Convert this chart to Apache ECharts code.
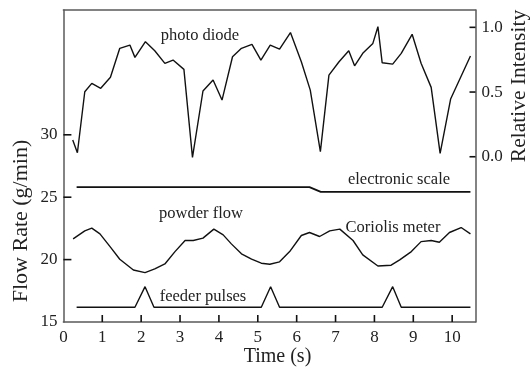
<!DOCTYPE html>
<html>
<head>
<meta charset="utf-8">
<script src="https://cdn.jsdelivr.net/npm/echarts@6/dist/echarts.min.js"></script>
<style>html,body{margin:0;padding:0;background:#fff;}#c{width:531px;height:370px;}</style>
</head>
<body>
<div id="c"></div>
<script>
// ---- data ----
var xTicks = [0,1,2,3,4,5,6,7,8,9,10];
var leftTicks = [15,20,25,30];
var rightTicks = [0,0.5,1.0];

var photoTime = [0.24,0.36,0.55,0.73,0.96,1.21,1.45,1.71,1.84,2.11,2.35,2.61,2.82,3.10,3.32,3.59,3.85,4.08,4.35,4.58,4.85,5.08,5.32,5.56,5.84,6.12,6.35,6.61,6.83,7.09,7.34,7.49,7.70,7.96,8.09,8.20,8.47,8.69,8.97,9.20,9.46,9.69,9.96,10.47];
var photoVal  = [0.129,0.031,0.502,0.567,0.529,0.614,0.838,0.863,0.768,0.889,0.819,0.722,0.747,0.675,-0.005,0.508,0.593,0.438,0.773,0.838,0.869,0.747,0.863,0.832,0.960,0.734,0.515,0.039,0.631,0.734,0.819,0.703,0.799,0.876,1.005,0.726,0.716,0.799,0.946,0.722,0.536,0.026,0.446,0.778];

var scaleTime = [0.34,6.33,6.62,10.47];
var scaleVal  = [25.81,25.81,25.43,25.43];

var flowTime = [0.25,0.55,0.73,0.94,1.20,1.45,1.80,2.10,2.35,2.61,2.87,3.13,3.34,3.59,3.87,4.11,4.32,4.58,4.84,5.09,5.31,5.56,5.82,6.12,6.33,6.59,6.85,7.11,7.45,7.70,8.09,8.43,8.65,8.95,9.20,9.46,9.67,9.93,10.23,10.47];
var flowVal  = [21.66,22.30,22.52,22.06,21.04,20.03,19.17,18.96,19.25,19.65,20.64,21.53,21.53,21.72,22.44,21.98,21.26,20.46,20.03,19.71,19.63,19.82,20.64,21.93,22.17,21.85,22.30,22.44,21.53,20.38,19.49,19.55,19.98,20.64,21.44,21.53,21.39,22.17,22.57,22.06];

var pulseTime = [0.34,1.84,2.10,2.33,5.09,5.33,5.56,8.20,8.47,8.69,10.47];
var pulseVal  = [16.18,16.18,17.83,16.18,16.18,17.83,16.18,16.18,17.83,16.18,16.18];

var X_MIN = 0, X_MAX = 10.6, L_MIN = 15, L_MAX = 40, R_MIN = -1.277, R_MAX = 1.134;

function pairs(t, v){ return t.map(function(x,i){ return [x, v[i]]; }); }

var FONT = 'Liberation Serif';
var AX = '#5a5a5a';
var TICK = '#111';
var chart = echarts.init(document.getElementById('c'));
var lineCommon = {type:'line', symbol:'none', animation:false,
  lineStyle:{color:'#111', width:1.4}};

// tick marks drawn through the axes' scales (api.coord)
function tickSeries(data, yIdx, dx, dy){
  return {type:'custom', xAxisIndex:0, yAxisIndex:yIdx, clip:false, silent:true, z:10, animation:false,
    data:data,
    renderItem:function(params, api){
      var p = api.coord([api.value(0), api.value(1)]);
      return {type:'line', z2:100, shape:{x1:p[0], y1:p[1], x2:p[0]+dx, y2:p[1]+dy},
        style:{stroke:TICK, lineWidth:1.6, fill:null}};
    }};
}

chart.setOption({
  animation:false,
  backgroundColor:'#fff',
  grid:{left:63.4, right:55.5, top:10, bottom:48},
  xAxis:[
    {type:'value', min:X_MIN, max:X_MAX, interval:1,
      axisLine:{show:true, onZero:false, lineStyle:{color:AX, width:1.5}}, splitLine:{show:false},
      axisTick:{show:false},
      axisLabel:{fontFamily:FONT, fontSize:17, color:'#222', margin:7, customValues:xTicks}
    },
    {type:'value', min:X_MIN, max:X_MAX, position:'top',
      axisLine:{show:true, onZero:false, lineStyle:{color:AX, width:1.5}}, splitLine:{show:false},
      axisTick:{show:false}, axisLabel:{show:false}
    }
  ],
  yAxis:[
    {type:'value', min:L_MIN, max:L_MAX, interval:5,
      axisLine:{show:true, onZero:false, lineStyle:{color:AX, width:1.5}}, splitLine:{show:false},
      axisTick:{show:false},
      axisLabel:{fontFamily:FONT, fontSize:17, color:'#222', margin:6, customValues:leftTicks}
    },
    {type:'value', min:R_MIN, max:R_MAX,
      axisLine:{show:true, onZero:false, lineStyle:{color:AX, width:1.5}}, splitLine:{show:false},
      axisTick:{show:false},
      axisLabel:{fontFamily:FONT, fontSize:17, color:'#222', margin:6, customValues:rightTicks,
        formatter:function(v){ return v.toFixed(1); }}
    }
  ],
  series:[
    Object.assign({}, lineCommon, {name:'photo diode', xAxisIndex:0, yAxisIndex:1, data:pairs(photoTime, photoVal)}),
    Object.assign({}, lineCommon, {name:'electronic scale', xAxisIndex:0, yAxisIndex:0, data:pairs(scaleTime, scaleVal), lineStyle:{color:'#111', width:1.8}}),
    Object.assign({}, lineCommon, {name:'powder flow', xAxisIndex:0, yAxisIndex:0, data:pairs(flowTime, flowVal)}),
    Object.assign({}, lineCommon, {name:'feeder pulses', xAxisIndex:0, yAxisIndex:0, data:pairs(pulseTime, pulseVal)}),
    tickSeries(xTicks.filter(function(v){return v>X_MIN;}).map(function(v){return [v, L_MIN];}), 0, 0, -7),
    tickSeries(leftTicks.filter(function(v){return v>L_MIN;}).map(function(v){return [X_MIN, v];}), 0, 8, 0),
    tickSeries(rightTicks.map(function(v){return [X_MAX, v];}), 1, -6, 0)
  ],
  graphic:[
    {type:'text', x:200, y:36, style:{text:'photo diode', font:'16.5px "Liberation Serif"', fill:'#222', textAlign:'center', textVerticalAlign:'middle'}},
    {type:'text', x:399, y:180, style:{text:'electronic scale', font:'16.5px "Liberation Serif"', fill:'#222', textAlign:'center', textVerticalAlign:'middle'}},
    {type:'text', x:201, y:214, style:{text:'powder flow', font:'16.5px "Liberation Serif"', fill:'#222', textAlign:'center', textVerticalAlign:'middle'}},
    {type:'text', x:393, y:228, style:{text:'Coriolis meter', font:'16.5px "Liberation Serif"', fill:'#222', textAlign:'center', textVerticalAlign:'middle'}},
    {type:'text', x:203, y:297, style:{text:'feeder pulses', font:'16.5px "Liberation Serif"', fill:'#222', textAlign:'center', textVerticalAlign:'middle'}},
    {type:'text', x:277.5, y:357, style:{text:'Time (s)', font:'20px "Liberation Serif"', fill:'#222', textAlign:'center', textVerticalAlign:'middle'}},
    {type:'text', x:21, y:221, rotation:Math.PI/2, style:{text:'Flow Rate (g/min)', font:'22px "Liberation Serif"', fill:'#222', textAlign:'center', textVerticalAlign:'middle'}},
    {type:'text', x:519, y:86, rotation:Math.PI/2, style:{text:'Relative Intensity', font:'21.5px "Liberation Serif"', fill:'#222', textAlign:'center', textVerticalAlign:'middle'}}
  ]
});
</script>
</body>
</html>
